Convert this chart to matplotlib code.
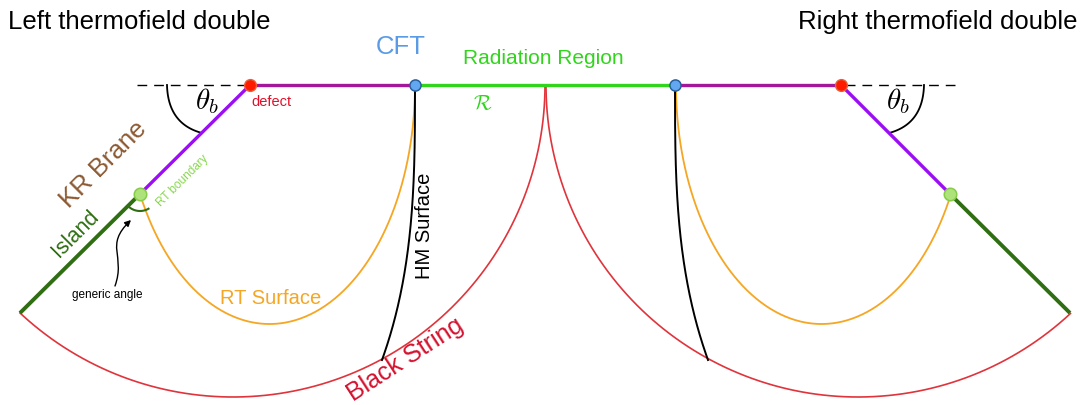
import numpy as np
import matplotlib
matplotlib.use("Agg")
import matplotlib.pyplot as plt
from matplotlib.patches import FancyArrowPatch
from matplotlib.path import Path

plt.rcParams['font.family'] = ['Liberation Sans', 'DejaVu Sans']
plt.rcParams['mathtext.fontset'] = 'cm'

# geometry of the two-sided setup (pixel units, y grows downwards)
W, H = 1081, 405
boundary_y = 85
cusp_x = 545
defect_x = [250, 841]
cft_x = [415, 675]
rt_pts = [(140, 194), (950, 194)]
island_end = [(20, 313), (1070, 313)]
dash_end_x = [137, 955]
bs_center_x = [233, 858]
bs_radius = 312
rt_center_x = [269.5, 821.5]
rt_semi = (145.5, 239)
hm_bottom_x = [382, 708]
hm_bottom_y = 360

fig = plt.figure(figsize=(W / 100, H / 100), dpi=100)
ax = fig.add_axes([0, 0, 1, 1])
ax.set_xlim(0, W)
ax.set_ylim(H, 0)
ax.axis('off')

red = '#e0343c'
orange = '#f5a623'
purple = '#9b0df5'
magenta = '#a3189a'
green = '#30d51c'
dkgreen = '#2f6e12'

# black string arcs
for i in range(2):
    cx = bs_center_x[i]
    ex, ey = island_end[i]
    a_end = np.arctan2(ey - boundary_y, ex - cx)
    if i == 0:
        t = np.linspace(0, a_end, 300)
    else:
        t = np.linspace(a_end, np.pi, 300)
    ax.plot(cx + bs_radius * np.cos(t), boundary_y + bs_radius * np.sin(t),
            color=red, lw=1.2, zorder=1)

# RT surfaces (half ellipses ending on the brane)
a, b = rt_semi
for i in range(2):
    cx = rt_center_x[i]
    px, py = rt_pts[i]
    sgn = 1 if i == 0 else -1
    t_end = np.arctan2((py - boundary_y) / b, sgn * (px - cx) / a)
    t = np.linspace(0, t_end, 300)
    xs = cx + sgn * a * np.cos(t)
    ys = boundary_y + b * np.sin(t)
    ax.plot(xs, ys, color=orange, lw=1.3, zorder=2)

# HM surfaces
for i in range(2):
    y = np.linspace(boundary_y, hm_bottom_y, 200)
    s = (y - boundary_y) / (hm_bottom_y - boundary_y)
    x = cft_x[i] + (hm_bottom_x[i] - cft_x[i]) * s ** 3
    ax.plot(x, y, color='black', lw=1.4, zorder=2)

# boundary segments
for i in range(2):
    ax.plot([defect_x[i], cft_x[i]], [boundary_y, boundary_y], color=magenta,
            lw=2.4, zorder=3, solid_capstyle='butt')
ax.plot([cft_x[0], cft_x[1]], [boundary_y, boundary_y], color=green, lw=2.4,
        zorder=3, solid_capstyle='butt')

# branes and islands
for i in range(2):
    ax.plot([defect_x[i], rt_pts[i][0]], [boundary_y, rt_pts[i][1]],
            color=purple, lw=2.4, zorder=3, solid_capstyle='butt')
    ax.plot([rt_pts[i][0], island_end[i][0]], [rt_pts[i][1], island_end[i][1]],
            color=dkgreen, lw=2.8, zorder=3, solid_capstyle='butt')
    ax.plot([dash_end_x[i], defect_x[i]], [boundary_y, boundary_y],
            color='black', lw=1.0, dashes=(7, 5), zorder=2)

# brane angle markers
for x0, x1, cx in [(167, 202, 168), (924, 889, 923)]:
    t = np.linspace(0, 1, 60)
    p0 = np.array([x0, boundary_y])
    p1 = np.array([cx, 124])
    p2 = np.array([x1, 133])
    pts = ((1 - t) ** 2)[:, None] * p0 + (2 * t * (1 - t))[:, None] * p1 + (t ** 2)[:, None] * p2
    ax.plot(pts[:, 0], pts[:, 1], color='black', lw=1.3, zorder=2)

# generic angle marker at the left RT point
ang = np.radians(np.linspace(60, 133, 40))
ax.plot(rt_pts[0][0] + 17 * np.cos(ang), rt_pts[0][1] + 17 * np.sin(ang),
        color=dkgreen, lw=1.5, zorder=3)

verts = [(115, 286), (126, 255), (104, 246), (131, 220)]
codes = [Path.MOVETO, Path.CURVE4, Path.CURVE4, Path.CURVE4]
ax.add_patch(FancyArrowPatch(path=Path(verts, codes), arrowstyle='-|>',
                             mutation_scale=9, color='black', lw=1.0, zorder=4))

# points
for i in range(2):
    ax.plot(defect_x[i], boundary_y, 'o', ms=8.5, mfc='#ff1a00', mec='#e8603a',
            mew=1.0, zorder=5)
    ax.plot(cft_x[i], boundary_y, 'o', ms=8, mfc='#62a8f0', mec='#2a5f9a',
            mew=1.1, zorder=5)
    ax.plot(rt_pts[i][0], rt_pts[i][1], 'o', ms=9, mfc='#aee27a', mec='#86cc48',
            mew=1.1, zorder=5)

# labels
ax.text(8, 22, 'Left thermofield double', fontsize=18.5, ha='left', va='center')
ax.text(1078, 22, 'Right thermofield double', fontsize=18.5, ha='right', va='center')
ax.text(401, 47, 'CFT', fontsize=18.5, color='#5b9be6', ha='center', va='center')
ax.text(543, 59, 'Radiation Region', fontsize=15, color=green, ha='center', va='center')
ax.text(483, 104, r'$\mathcal{R}$', fontsize=15, color=green, ha='center', va='center')
ax.text(251, 102, 'defect', fontsize=10.5, color='#e2102a', ha='left', va='center')
ax.text(207, 101, r'$\theta_b$', fontsize=21, ha='center', va='center')
ax.text(898, 101, r'$\theta_b$', fontsize=21, ha='center', va='center')
ax.text(103, 165, 'KR Brane', fontsize=18.5, color='#8c5a32', rotation=45,
        ha='center', va='center', rotation_mode='anchor')
ax.text(183, 181, 'RT boundary', fontsize=8.5, color='#88d84e', rotation=45,
        ha='center', va='center', rotation_mode='anchor')
ax.text(75, 234, 'Island', fontsize=15.5, color=dkgreen, rotation=45,
        ha='center', va='center', rotation_mode='anchor')
ax.text(107, 295, 'generic angle', fontsize=8.5, ha='center', va='center')
ax.text(271, 298, 'RT Surface', fontsize=14.5, color=orange, ha='center', va='center')
ax.text(425, 226, 'HM Surface', fontsize=14.5, rotation=90, ha='center', va='center',
        rotation_mode='anchor')
ax.text(405, 360, 'Black String', fontsize=18, color='#d3122e', rotation=33,
        ha='center', va='center', rotation_mode='anchor')

fig.savefig('out.png', dpi=100)
